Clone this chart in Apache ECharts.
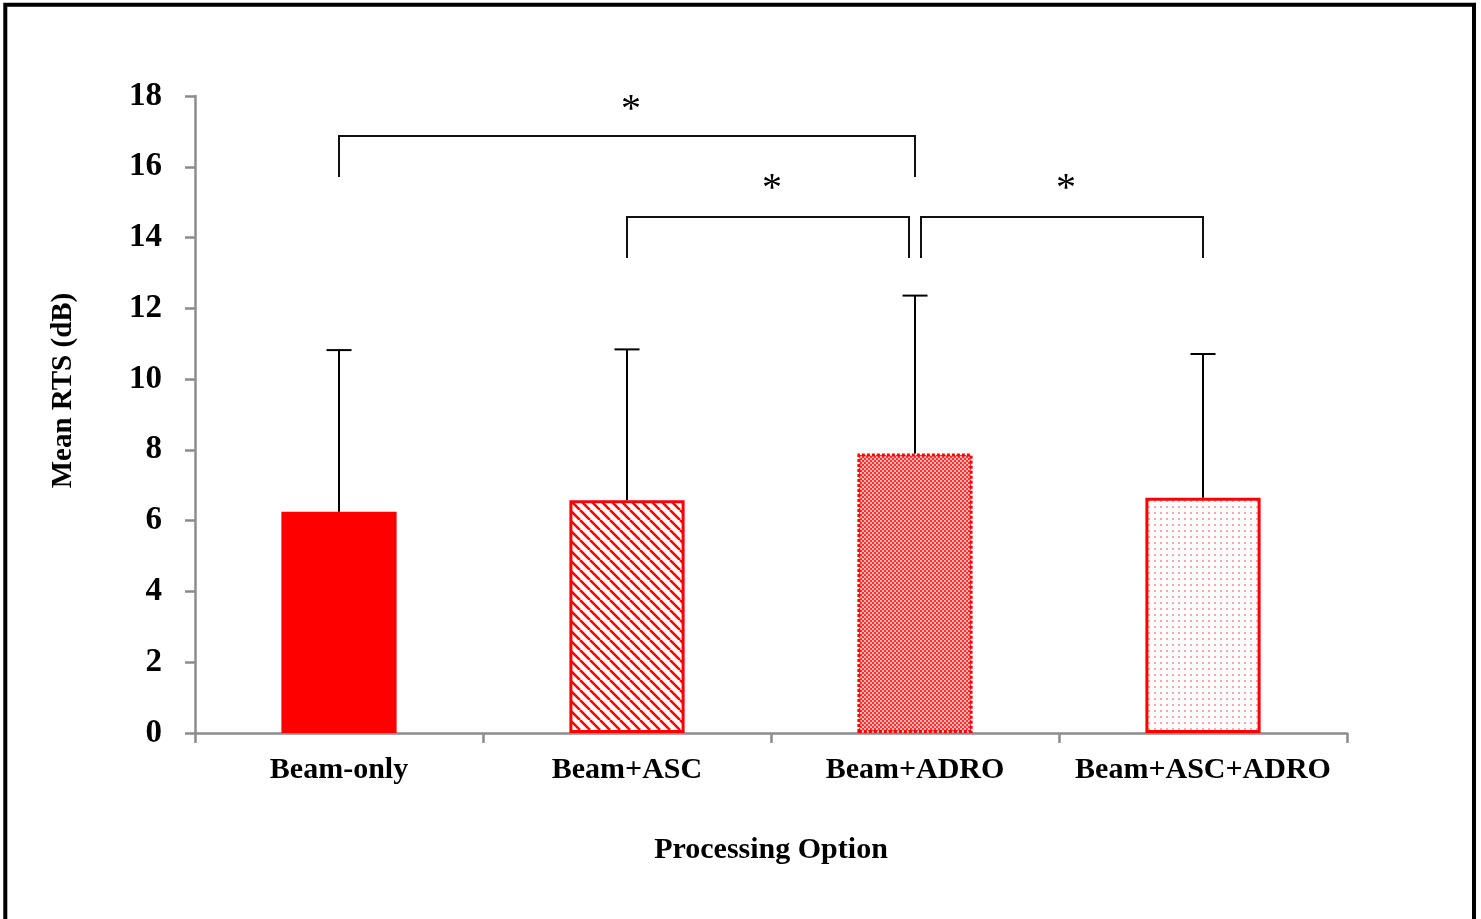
<!DOCTYPE html>
<html>
<head>
<meta charset="utf-8">
<script src="https://cdn.jsdelivr.net/npm/echarts@6/dist/echarts.min.js"></script>
<style>
html,body{margin:0;padding:0;background:#fff;}
#chart{width:1481px;height:919px;}
</style>
</head>
<body>
<div id="chart"></div>
<script>
// ---- data ----
const categories = ['Beam-only', 'Beam+ASC', 'Beam+ADRO', 'Beam+ASC+ADRO'];
const means = [6.25, 6.58, 7.90, 6.65];
const sds = [4.57, 4.26, 4.46, 4.06];
// significance brackets: [fromCategory, toCategory, topValue, legBottomValue, starValue]
const bracketFrom = [0, 1, 2];
const bracketTo = [2, 2, 3];
const bracketTop = [16.87, 14.58, 14.58];
const bracketLeg = [15.71, 13.42, 13.42];
const bracketStar = [17.6, 15.35, 15.35];
const bracketLabel = ['*', '*', '*'];
const yTicks = {min: 0, max: 18, interval: 2};

// ---- patterns ----
function hatch() {
  const c = document.createElement('canvas'); c.width = 10; c.height = 10;
  const g = c.getContext('2d');
  g.fillStyle = '#fff'; g.fillRect(0, 0, 10, 10);
  g.strokeStyle = '#ff0000'; g.lineWidth = 2.6; g.beginPath();
  for (let k = -10; k <= 10; k += 10) { g.moveTo(k, 0); g.lineTo(k + 10, 10); }
  g.stroke();
  return c;
}
function checker() {
  const n = 4;
  const c = document.createElement('canvas'); c.width = n; c.height = n;
  const g = c.getContext('2d');
  g.fillStyle = '#ff3030'; g.fillRect(0, 0, n, n);
  g.fillStyle = '#ffb4b4';
  g.fillRect(0, 0, 2, 2); g.fillRect(2, 2, 2, 2);
  return c;
}
function dots() {
  const n = 6;
  const c = document.createElement('canvas'); c.width = n; c.height = n;
  const g = c.getContext('2d');
  g.fillStyle = '#fff'; g.fillRect(0, 0, n, n);
  g.fillStyle = '#ffa8a8';
  g.fillRect(2, 2, 2, 2);
  return c;
}

const barStyles = [
  {color: '#ff0000', borderWidth: 0},
  {color: {image: hatch(), repeat: 'repeat'}, borderColor: '#ff0000', borderWidth: 3},
  {color: {image: checker(), repeat: 'repeat'}, borderColor: '#ff0000', borderWidth: 3, borderType: [3, 2]},
  {color: {image: dots(), repeat: 'repeat'}, borderColor: '#ff0000', borderWidth: 3}
];

const font = 'Liberation Serif';
const axisGray = '#8c8c8c';

const chart = echarts.init(document.getElementById('chart'));

chart.setOption({
  backgroundColor: '#fff',
  animation: false,
  grid: {left: 195, right: 134, top: 96, bottom: 186, containLabel: false},
  xAxis: {
    type: 'category',
    data: categories,
    boundaryGap: true,
    name: 'Processing Option',
    nameLocation: 'middle',
    nameGap: 102,
    nameTextStyle: {fontFamily: font, fontWeight: 'bold', fontSize: 30, color: '#000'},
    axisLine: {lineStyle: {color: axisGray, width: 2.5}},
    axisTick: {show: true, length: 10, inside: false, interval: 0, lineStyle: {color: axisGray, width: 2.5}},
    axisLabel: {interval: 0, fontFamily: font, fontWeight: 'bold', fontSize: 30, color: '#000', margin: 22},
    splitLine: {show: false}
  },
  yAxis: {
    type: 'value',
    min: yTicks.min, max: yTicks.max, interval: yTicks.interval,
    name: 'Mean RTS (dB)',
    nameLocation: 'middle',
    nameGap: 117,
    nameRotate: 90,
    nameTextStyle: {fontFamily: font, fontWeight: 'bold', fontSize: 29, color: '#000', padding: [0, 0, 0, 48]},
    axisLine: {show: true, lineStyle: {color: axisGray, width: 2.5}},
    axisTick: {show: true, length: 10, inside: false, lineStyle: {color: axisGray, width: 2.5}},
    axisLabel: {fontFamily: font, fontWeight: 'bold', fontSize: 33, color: '#000', margin: 33},
    splitLine: {show: false}
  },
  series: [
    {
      type: 'bar',
      barWidth: '40%',
      data: means.map((v, i) => ({value: v, itemStyle: barStyles[i]})),
      z: 2
    },
    {
      type: 'custom',
      z: 5,
      data: means.map((m, i) => [i, m, sds[i]]),
      encode: {x: 0, y: 1},
      renderItem: function (params, api) {
        const i = api.value(0), m = api.value(1), s = api.value(2);
        const base = api.coord([i, m]);
        const top = api.coord([i, m + s]);
        const hw = 12.5;
        return {
          type: 'group',
          children: [
            {type: 'line', shape: {x1: base[0], y1: base[1], x2: top[0], y2: top[1]}, style: {stroke: '#000', lineWidth: 2}},
            {type: 'line', shape: {x1: top[0] - hw, y1: top[1], x2: top[0] + hw, y2: top[1]}, style: {stroke: '#000', lineWidth: 2}}
          ]
        };
      }
    },
    {
      type: 'custom',
      z: 6,
      data: bracketFrom.map((f, k) => [f, bracketTo[k], bracketTop[k], bracketLeg[k], bracketStar[k]]),
      encode: {x: [0, 1], y: [2, 3]},
      renderItem: function (params, api) {
        const k = params.dataIndex;
        const f = api.value(0), t = api.value(1), top = api.value(2), leg = api.value(3), star = api.value(4);
        // nudge endpoints apart where two brackets at the same level meet at one category
        let dl = 0, dr = 0;
        for (let j = 0; j < bracketFrom.length; j++) {
          if (j === k || bracketTop[j] !== bracketTop[k]) continue;
          if (bracketFrom[j] === t) dr = -6;
          if (bracketTo[j] === f) dl = 6;
        }
        const pL = api.coord([f, top]);
        const pR = api.coord([t, top]);
        const yLeg = api.coord([f, leg])[1];
        const yStar = api.coord([f, star])[1];
        const xL = pL[0] + dl, xR = pR[0] + dr;
        return {
          type: 'group',
          children: [
            {type: 'polyline', shape: {points: [[xL, yLeg], [xL, pL[1]], [xR, pL[1]], [xR, yLeg]]},
             style: {stroke: '#111', lineWidth: 2, fill: null}},
            {type: 'text', x: (xL + xR) / 2 + 4, y: yStar,
             style: {text: bracketLabel[k], fontFamily: font, fontSize: 40, fill: '#000', align: 'center', verticalAlign: 'middle'}}
          ]
        };
      }
    }
  ],
  graphic: [
    {type: 'rect', shape: {x: 5.3, y: 4.7, width: 1468.7, height: 1000}, style: {stroke: '#000', lineWidth: 4, fill: null}, silent: true, z: 10}
  ]
});
</script>
</body>
</html>
